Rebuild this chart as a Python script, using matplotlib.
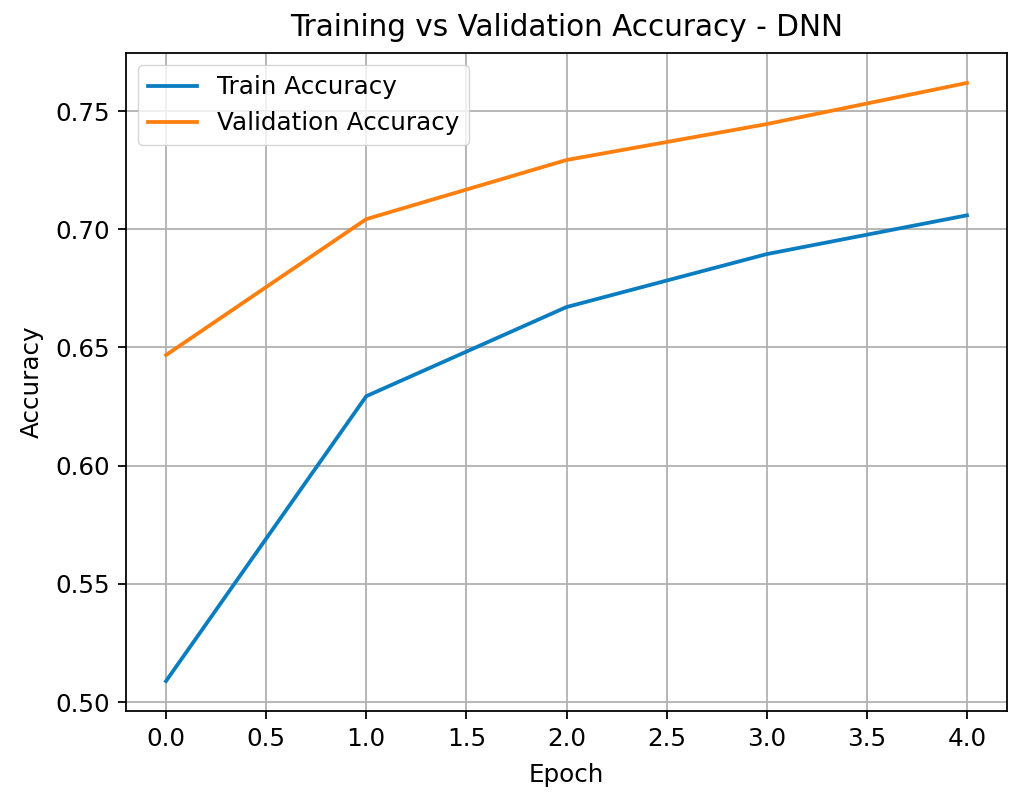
import numpy as np
import matplotlib
matplotlib.use("Agg")
from matplotlib import pyplot as plt

epochs = [0, 1, 2, 3, 4]
train_acc = [0.5089, 0.6294, 0.6671, 0.6895, 0.7059]
val_acc = [0.6468, 0.7043, 0.7293, 0.7445, 0.7619]

scale = 1.6
fscale = 1.77
plt.rcParams.update({
    "font.size": 10 * fscale,
    "axes.titlesize": 12 * fscale,
    "axes.linewidth": 0.8 * scale,
    "xtick.major.width": 0.8 * scale,
    "ytick.major.width": 0.8 * scale,
    "xtick.major.size": 3.5 * scale,
    "ytick.major.size": 3.5 * scale,
    "xtick.major.pad": 3.5 * scale,
    "ytick.major.pad": 3.5 * scale,
    "grid.linewidth": 0.8 * scale,
})

fig = plt.figure(figsize=(10.21, 8.01), dpi=100)
ax = fig.add_axes([0.1234, 0.1124, 0.8629, 0.8214])

ax.plot(epochs, train_acc, color="#0a7dc0", lw=1.7 * scale, label="Train Accuracy")
ax.plot(epochs, val_acc, color="#ff7f0e", lw=1.7 * scale, label="Validation Accuracy")

ax.set_title("Training vs Validation Accuracy - DNN", pad=7.5 * scale)
ax.set_xlabel("Epoch", labelpad=5.5 * scale)
ax.set_ylabel("Accuracy", labelpad=5.5 * scale)
ax.legend(loc="upper left")
ax.grid(True)

fig.savefig("out.png", dpi=100)
